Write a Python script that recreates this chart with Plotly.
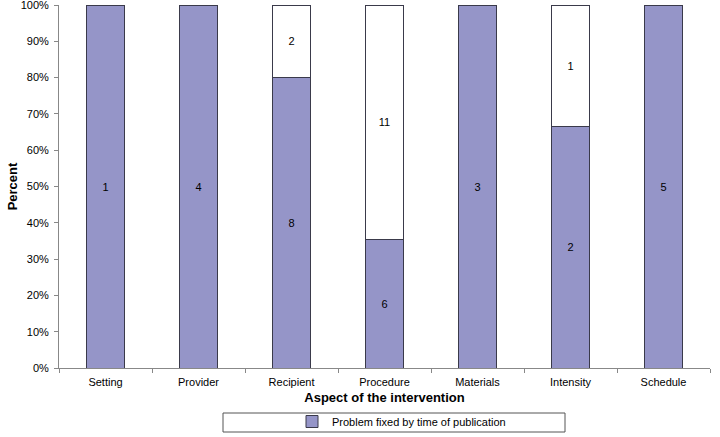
import plotly.graph_objects as go

categories = ["Setting", "Provider", "Recipient", "Procedure", "Materials", "Intensity", "Schedule"]
fixed = [1, 4, 8, 6, 3, 2, 5]
not_fixed = [0, 0, 2, 11, 0, 1, 0]

purple = "#9595C8"
edge = "#3a3a4a"
font = "Liberation Sans, Arial, sans-serif"

fig = go.Figure()
fig.add_trace(go.Bar(
    x=categories, y=fixed, name="Problem fixed by time of publication",
    marker=dict(color=purple, line=dict(color=edge, width=1)),
    text=[str(v) if v else "" for v in fixed], textposition="inside",
    insidetextanchor="middle", textangle=0,
    textfont=dict(color="black", size=11, family=font),
))
fig.add_trace(go.Bar(
    x=categories, y=not_fixed, name="Not fixed", showlegend=False,
    marker=dict(color="white", line=dict(color=edge, width=1)),
    text=[str(v) if v else "" for v in not_fixed], textposition="inside",
    insidetextanchor="middle", textangle=0,
    textfont=dict(color="black", size=11, family=font),
))

H = 363.0
W = 651.0
fig.update_layout(
    barmode="stack", barnorm="percent", bargap=0.59,
    width=720, height=437,
    margin=dict(l=59, r=10, t=5, b=69, autoexpand=False),
    paper_bgcolor="white", plot_bgcolor="white",
    font=dict(family=font, size=11, color="black"),
    uniformtext=dict(minsize=11, mode="show"),
    showlegend=True,
    legend=dict(orientation="h", x=(292 - 59) / W, xanchor="left",
                y=-(407 - 368) / H, yanchor="top",
                font=dict(size=11, family=font), bgcolor="rgba(0,0,0,0)",
                itemwidth=30, tracegroupgap=0),
    shapes=[dict(type="rect", xref="paper", yref="paper",
                 x0=(223 - 59) / W, x1=(565 - 59) / W,
                 y0=-(432 - 368) / H, y1=-(413 - 368) / H,
                 line=dict(color="#555", width=1))],
)
fig.update_yaxes(range=[0, 100], dtick=10, ticksuffix="%", ticks="outside", ticklen=4,
                 tickcolor="#888", showline=True, linecolor="#888", showgrid=False,
                 zeroline=False, title=dict(text="<b>Percent</b>", standoff=0),
                 tickfont=dict(size=11), automargin=False, ticklabeloverflow="allow",
                 ticklabelstandoff=3)
fig.update_xaxes(ticks="outside", tickson="boundaries", ticklen=4, tickcolor="#888",
                 showline=True, linecolor="#888", showgrid=False,
                 title=dict(text="<b>Aspect of the intervention</b>", standoff=5),
                 tickfont=dict(size=11), automargin=False, ticklabelstandoff=4)

fig.write_html("out.html", config={"displayModeBar": False},
               post_script="document.body.style.margin='0px';")
